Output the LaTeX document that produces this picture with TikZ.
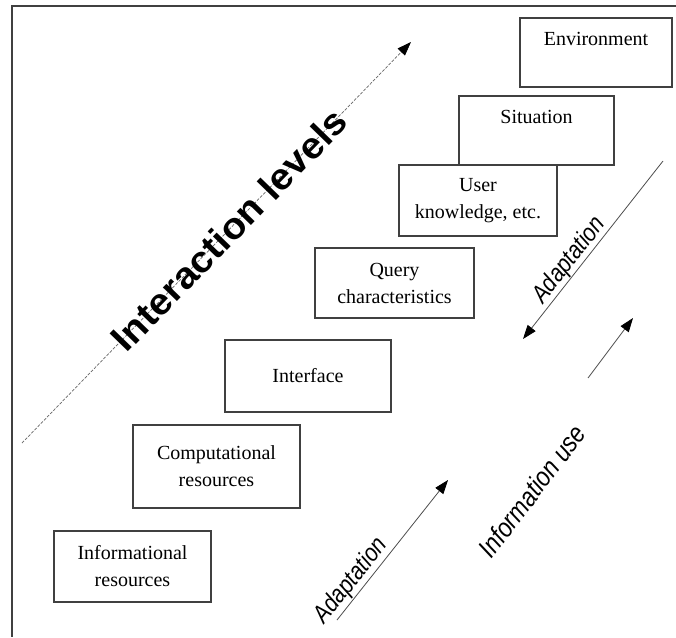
\documentclass[tikz,border=0pt]{standalone}
\usepackage{fontspec}
\setmainfont{Liberation Serif}
\setsansfont{Liberation Sans}
\usetikzlibrary{positioning, arrows.meta}

\begin{document}
\begin{tikzpicture}[x=1pt, y=-1pt,
  level/.style={rectangle, draw=black!75, line width=1.1pt, align=center, inner sep=0pt,
    font=\fontsize{20}{27}\selectfont},
  flow/.style={draw=black!70, line width=0.8pt, -{Triangle[length=14pt, width=10pt, black]}},
  tag/.style={font=\sffamily\itshape\fontsize{25}{25}\selectfont}]
  \useasboundingbox (0,0) rectangle (676,637);
  \draw[black!75, line width=1.1pt] (676,6) -- (12,6) -- (12,637);
  \draw
    (596,52.5) node[level, minimum width=152pt, minimum height=69pt] (env){Environment\\ \mbox{}}
    (536.5,130.5) node[level, minimum width=155pt, minimum height=69pt] (sit){Situation\\ \mbox{}}
    (478,200.5) node[level, minimum width=158pt, minimum height=71pt] (user){User\\ knowledge, etc.}
    (394.5,283) node[level, minimum width=159pt, minimum height=70pt] (query){Query\\ characteristics}
    (308,376) node[level, minimum width=166pt, minimum height=72pt] (iface){Interface}
    (216.5,466.5) node[level, minimum width=167pt, minimum height=83pt] (comp){Computational\\ resources}
    (132.5,566.5) node[level, minimum width=157pt, minimum height=71pt] (info){Informational\\ resources};
  \coordinate (lvl0) at (22,443);
  \coordinate (lvl1) at (411,42);
  \coordinate (ad0) at (337,620);
  \coordinate (ad1) at (448,480);
  \coordinate (use0) at (588,378);
  \coordinate (use1) at (633,318);
  \coordinate (back0) at (663,161);
  \coordinate (back1) at (523,339);
  \begin{scope}
    \draw[flow, draw=black!60, line width=0.7pt, dash pattern=on 3pt off 1.5pt] (lvl0) --
      node[pos=0.532, sloped, font=\sffamily\bfseries\fontsize{37}{37}\selectfont] (lvltext)
      {\scalebox{1.06}[1]{Interaction levels}} (lvl1);
    \draw[flow] (ad0) -- node[pos=0.22, sloped, above, inner sep=1pt, tag] (adlow){\scalebox{0.85}[1]{Adaptation}} (ad1);
    \draw[flow] (use0) -- (use1);
    \draw[flow] (back0) -- node[pos=0.6, sloped, above, inner sep=0pt, tag] (adhigh){\scalebox{0.85}[1]{Adaptation}} (back1);
  \end{scope}
  \node[tag, rotate=52.7, font=\sffamily\itshape\fontsize{27}{27}\selectfont] (usetext) at (532,491) {\scalebox{0.85}[1]{Information use}};
\end{tikzpicture}
\end{document}
